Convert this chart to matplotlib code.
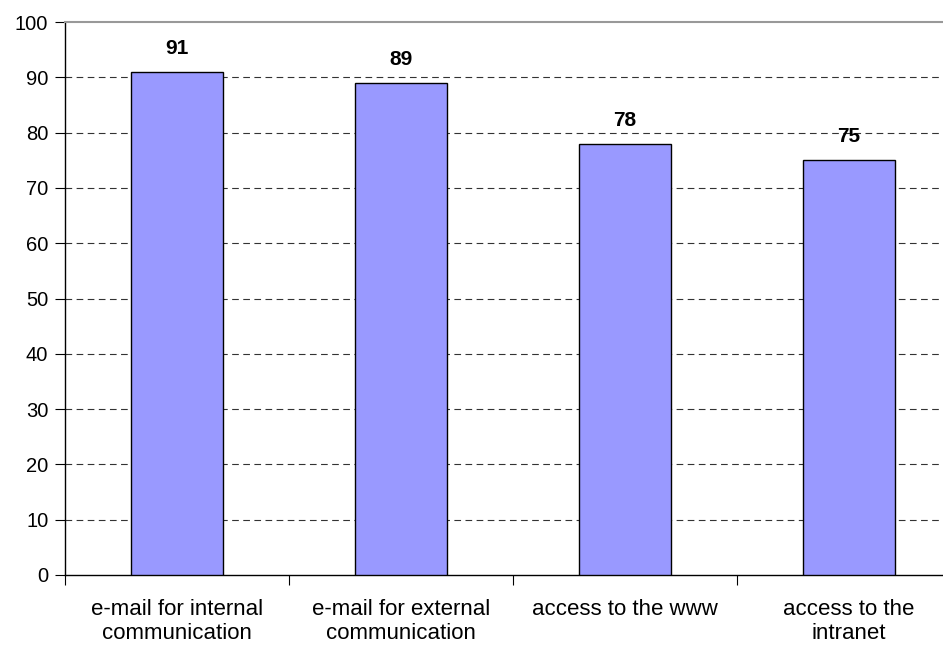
import matplotlib
matplotlib.use("Agg")
import matplotlib.pyplot as plt
import numpy as np

plt.rcParams['font.family'] = ['Liberation Sans', 'DejaVu Sans']

categories = ["e-mail for internal\ncommunication", "e-mail for external\ncommunication",
              "access to the www", "access to the\nintranet"]
values = [91, 89, 78, 75]
yticks = [0, 10, 20, 30, 40, 50, 60, 70, 80, 90, 100]

fig = plt.figure(figsize=(9.43, 6.48), dpi=100)
# axes run a little past the right edge of the figure
ax = fig.add_axes([65/943., 1-575/648., 896/943., 553/648.])

x = np.arange(len(values))
ax.bar(x, values, width=0.41, color='#9999FF', edgecolor='black', linewidth=1.0, zorder=3)

for xi, v in zip(x, values):
    ax.annotate(str(v), (xi, v), xytext=(0, 10), textcoords='offset points',
                ha='center', va='bottom', fontsize=15, fontweight='bold')

ax.set_xlim(-0.5, 3.5)
ax.set_ylim(0, 100)
ax.set_yticks(yticks)
ax.set_yticklabels([str(t) for t in yticks], fontsize=14.5)

# category labels centred, tick marks between categories
ax.set_xticks(x)
ax.set_xticklabels(categories, fontsize=16, linespacing=1.2)
ax.tick_params(axis='x', length=0, pad=17)
ax.set_xticks(np.arange(-0.5, 4.0, 1.0), minor=True)
ax.tick_params(axis='x', which='minor', length=7, width=0.8, direction='out')
ax.tick_params(axis='y', length=7, width=0.8, direction='out', pad=5)

for t in yticks[1:-1]:
    ax.axhline(t, color='#333333', linestyle=(0, (6, 4)), linewidth=0.8, zorder=1)

ax.spines['top'].set_color('#999999')
ax.spines['top'].set_linewidth(1.5)
ax.spines['right'].set_visible(False)
ax.spines['left'].set_linewidth(1.0)
ax.spines['bottom'].set_linewidth(1.0)

plt.savefig('out.png', dpi=100)
